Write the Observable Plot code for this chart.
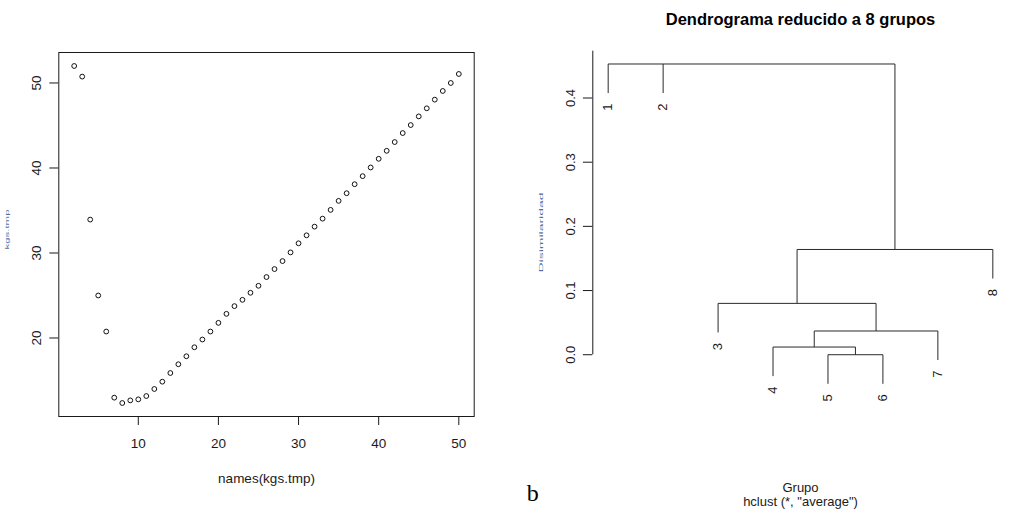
<!DOCTYPE html>
<html>
<head>
<meta charset="utf-8">
<script src="https://cdn.jsdelivr.net/npm/d3@7"></script>
<script src="https://cdn.jsdelivr.net/npm/@observablehq/plot@0.6"></script>
<style>
  body { margin: 0; background: #fff; }
  #page { position: relative; width: 1023px; height: 510px; overflow: hidden; background: #fff; }
  .panel { position: absolute; top: 0; }
  .panel svg { overflow: visible; }
</style>
</head>
<body>
<div id="page">
  <div id="leftPanel" class="panel" style="left:0px"></div>
  <div id="rightPanel" class="panel" style="left:512px"></div>
</div>
<script>
// ---------- left panel: index against number of groups ----------
const kValues = [2, 3, 4, 5, 6, 7, 8, 9, 10, 11, 12, 13, 14, 15, 16, 17, 18, 19, 20,
  21, 22, 23, 24, 25, 26, 27, 28, 29, 30, 31, 32, 33, 34, 35, 36, 37, 38, 39, 40,
  41, 42, 43, 44, 45, 46, 47, 48, 49, 50];
const kgsValues = [52.0, 50.75, 33.93, 25.0, 20.76, 12.98, 12.35, 12.66, 12.78, 13.17,
  14.0, 14.86, 15.88, 16.91, 17.85, 18.91, 19.82, 20.76, 21.78, 22.84,
  23.75, 24.49, 25.32, 26.14, 27.17, 28.11, 29.05, 30.07, 31.14, 32.08,
  33.1, 34.04, 35.07, 36.13, 37.03, 38.09, 39.04, 40.06, 41.08, 42.02,
  43.05, 44.11, 45.05, 46.07, 47.02, 48.04, 49.06, 50.0, 51.06];
const xTicksLeft = [10, 20, 30, 40, 50];
const yTicksLeft = [20, 30, 40, 50];
const xLabelLeft = "names(kgs.tmp)";
const yLabelLeft = "kgs.tmp";

// ---------- right panel: dendrogram cut at 8 groups ----------
const leafLabels = ["1", "2", "3", "4", "5", "6", "7", "8"];
// merge rows in hclust convention: negative = leaf, positive = earlier row
const mergeA = [-5, -4, 2, -3, 4, -1, 6];
const mergeB = [-6, 1, -7, 3, -8, -2, 5];
const mergeHeight = [0.000, 0.012, 0.037, 0.080, 0.164, 0.453, 0.453];
const yTicksRight = [0, 0.1, 0.2, 0.3, 0.4];
const titleRight = "Dendrograma reducido a 8 grupos";
const xLabelRight = "Grupo";
const subRight = "hclust (*, \"average\")";
const yLabelRight = "Disimilaridad";
const panelTag = "b";

const sans = '"Liberation Sans", Arial, Helvetica, sans-serif';
const ink = "#1a1a1a";
const faintBlue = "#2b4f8f";
const expand = (lo, hi) => { const p = 0.04 * (hi - lo); return [lo - p, hi + p]; };

// ----- scatter -----
const points = kValues.map((k, i) => ({k, v: kgsValues[i]}));
const [kMin, kMax] = d3.extent(kValues);
const [vMin, vMax] = d3.extent(kgsValues);

const left = Plot.plot({
  width: 512, height: 510,
  marginLeft: 58.3, marginRight: 38.3, marginTop: 52, marginBottom: 94,
  style: {fontFamily: sans, fontSize: "13.5px", color: ink, background: "transparent"},
  x: {domain: expand(kMin, kMax)},
  y: {domain: expand(vMin, vMax)},
  marks: [
    Plot.frame({stroke: ink, strokeWidth: 1}),
    Plot.axisX({ticks: xTicksLeft, tickSize: 9, tickPadding: 13, label: null}),
    Plot.axisY({ticks: yTicksLeft, tickSize: 9, tickPadding: 9, tickRotate: -90, label: null}),
    Plot.dot(points, {x: "k", y: "v", r: 2.4, stroke: "#111", strokeWidth: 1, fill: "none"}),
    Plot.text([xLabelLeft], {text: d => d, frameAnchor: "bottom", lineAnchor: "middle", textAnchor: "middle", dy: 62}),
    // y title, squeezed into a thin faint strip at the page edge
    Plot.text([yLabelLeft], {text: d => d, frameAnchor: "left", rotate: -90, textAnchor: "middle", lineAnchor: "middle",
      dx: -52, dy: -5, fontSize: 6, fill: faintBlue, fillOpacity: 0.85})
  ]
});
document.getElementById("leftPanel").append(left);

// ----- dendrogram geometry from the merge table -----
const hang = 0.1 * d3.max(mergeHeight);
const nodeX = [];
const leafPos = leafLabels.map((_, i) => i + 1);
const childX = c => c < 0 ? leafPos[-c - 1] : nodeX[c - 1];
const verticals = [];
const spans = [];
const leaves = [];
mergeA.forEach((a, i) => {
  const b = mergeB[i];
  const h = mergeHeight[i];
  const xa = childX(a), xb = childX(b);
  nodeX[i] = (xa + xb) / 2;
  spans.push({h, lo: Math.min(xa, xb), hi: Math.max(xa, xb)});
  for (const [c, xc] of [[a, xa], [b, xb]]) {
    const yc = c < 0 ? h - hang : mergeHeight[c - 1];
    if (yc !== h) verticals.push({x1: xc, y1: h, x2: xc, y2: yc});
    if (c < 0) leaves.push({x: xc, y: yc, label: leafLabels[-c - 1]});
  }
});
// merge horizontal spans that share a height so no stroke is drawn twice
const horizontals = [];
for (const [h, group] of d3.group(spans, d => d.h)) {
  const sorted = group.slice().sort((p, q) => p.lo - q.lo);
  let cur = {...sorted[0]};
  for (const s of sorted.slice(1)) {
    if (s.lo <= cur.hi) cur.hi = Math.max(cur.hi, s.hi);
    else { horizontals.push({x1: cur.lo, y1: h, x2: cur.hi, y2: h}); cur = {...s}; }
  }
  horizontals.push({x1: cur.lo, y1: h, x2: cur.hi, y2: h});
}
const segments = horizontals.concat(verticals);
const yRight = expand(d3.min(leaves, d => d.y), d3.max(mergeHeight));
const xRight = expand(1, leafLabels.length);

const right = Plot.plot({
  width: 511, height: 510,
  marginLeft: 80.3, marginRight: 15.3, marginTop: 50.7, marginBottom: 113.9,
  style: {fontFamily: sans, fontSize: "13px", color: ink, background: "transparent"},
  x: {domain: xRight, axis: null},
  y: {domain: yRight},
  marks: [
    Plot.ruleX([xRight[0]], {y1: yTicksRight[0], y2: yRight[1], stroke: ink}),
    Plot.axisY({ticks: yTicksRight, tickFormat: d3.format(".1f"), tickSize: 9.4, tickPadding: 8.4, tickRotate: -90, label: null}),
    Plot.link(segments, {x1: "x1", y1: "y1", x2: "x2", y2: "y2", stroke: "#2a2a2a", strokeWidth: 1}),
    Plot.text(leaves, {x: "x", y: "y", text: "label", rotate: -90, textAnchor: "end", lineAnchor: "middle", dy: 10.5}),
    Plot.text([titleRight], {text: d => d, frameAnchor: "top", lineAnchor: "middle", textAnchor: "middle", dy: -31, fontWeight: "bold", fontSize: 16.5, fill: "#000"}),
    Plot.text([xLabelRight], {text: d => d, frameAnchor: "bottom", lineAnchor: "middle", textAnchor: "middle", dy: 91}),
    Plot.text([subRight], {text: d => d, frameAnchor: "bottom", lineAnchor: "middle", textAnchor: "middle", dy: 105}),
    Plot.text([panelTag], {text: d => d, frameAnchor: "bottom-left", lineAnchor: "bottom", textAnchor: "middle", dx: -60, dy: 104, fontFamily: '"Liberation Serif", "Times New Roman", serif', fontSize: 24, fill: "#000"}),
    // y title, squeezed into a thin faint strip
    Plot.text([yLabelRight], {text: d => d, frameAnchor: "left", rotate: -90, textAnchor: "middle", lineAnchor: "middle",
      dx: -52, dy: 8.6, fontSize: 6, fill: faintBlue, fillOpacity: 0.85})
  ]
});
document.getElementById("rightPanel").append(right);

// stretch the two faint y titles to the strip length they occupy
const stretch = (svg, label, len) => {
  d3.select(svg).selectAll("text").filter(function () { return this.textContent === label; })
    .attr("textLength", len).attr("lengthAdjust", "spacingAndGlyphs");
};
stretch(left, yLabelLeft, 40);
stretch(right, yLabelRight, 80);
</script>
</body>
</html>
